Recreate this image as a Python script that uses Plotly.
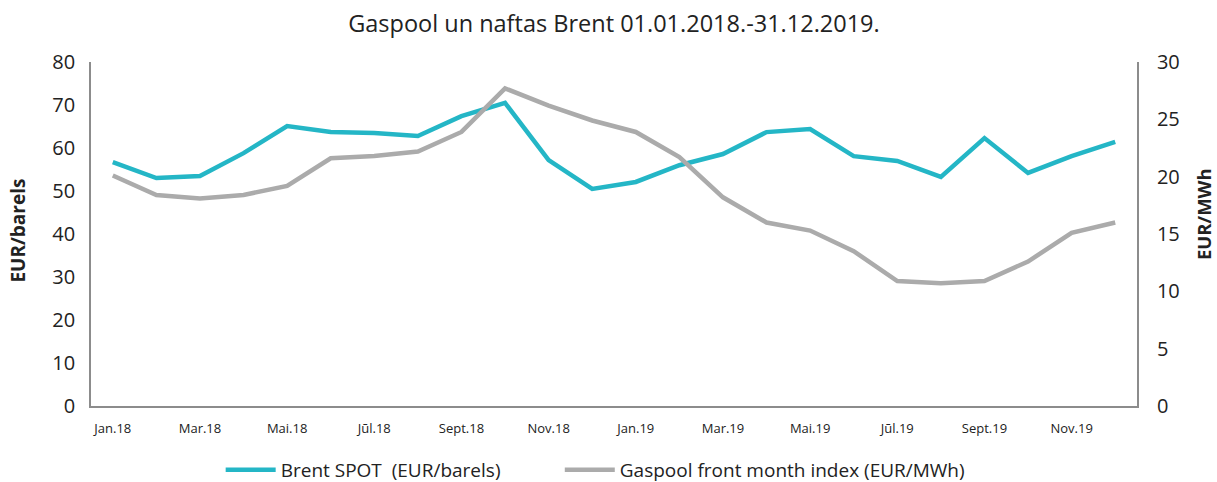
import plotly.graph_objects as go

months = ["Jan.18", "Feb.18", "Mar.18", "Apr.18", "Mai.18", "Jūn.18", "Jūl.18", "Aug.18",
          "Sept.18", "Okt.18", "Nov.18", "Dec.18",
          "Jan.19", "Feb.19", "Mar.19", "Apr.19", "Mai.19", "Jūn.19", "Jūl.19", "Aug.19",
          "Sept.19", "Okt.19", "Nov.19", "Dec.19"]
brent = [56.7, 53.0, 53.5, 58.8, 65.1, 63.7, 63.5, 62.8, 67.4, 70.5, 57.2, 50.5,
         52.1, 56.0, 58.6, 63.7, 64.4, 58.1, 57.0, 53.3, 62.3, 54.2, 58.1, 61.4]
gaspool = [20.1, 18.4, 18.1, 18.4, 19.2, 21.6, 21.8, 22.2, 23.9, 27.7, 26.2, 24.9,
           23.9, 21.7, 18.2, 16.0, 15.3, 13.5, 10.9, 10.7, 10.9, 12.6, 15.1, 16.0]
tick_labels = months[::2]

font = "Open Sans, Noto Sans, sans-serif"
fig = go.Figure()
fig.add_trace(go.Scatter(x=months, y=brent, mode="lines",
                         name="Brent SPOT  (EUR/barels)" + "\u00a0" * 11,
                         line=dict(color="#24B6C6", width=4.5)))
fig.add_trace(go.Scatter(x=months, y=gaspool, mode="lines", name="Gaspool front month index (EUR/MWh)",
                         line=dict(color="#ABABAB", width=4.5), yaxis="y2"))

plot_w = 1217 - 91 - 80
fig.update_layout(
    width=1217, height=482,
    margin=dict(l=91, r=80, t=62, b=76, autoexpand=False),
    paper_bgcolor="white", plot_bgcolor="white",
    font=dict(family=font, color="#222"),
    title=dict(text="Gaspool un naftas Brent 01.01.2018.-31.12.2019.", x=0.5045, xanchor="center",
               y=0.95, yanchor="middle", font=dict(size=23.5, color="#222")),
    xaxis=dict(type="category", tickvals=tick_labels, ticktext=tick_labels, automargin=False,
               showline=True, linecolor="#8C8C8C", linewidth=1.8, showgrid=False,
               ticks="outside", ticklen=9, tickcolor="rgba(0,0,0,0)",
               tickfont=dict(size=13), range=[-0.5, 23.5]),
    yaxis=dict(range=[0, 80], dtick=10, showline=True, linecolor="#8C8C8C", linewidth=1.8,
               showgrid=False, zeroline=False, automargin=False,
               ticks="outside", ticklen=10, tickcolor="rgba(0,0,0,0)", tickfont=dict(size=20)),
    yaxis2=dict(range=[0, 30], dtick=5, overlaying="y", side="right", showline=True,
                linecolor="#8C8C8C", linewidth=1.8, showgrid=False, zeroline=False, automargin=False,
                ticks="outside", ticklen=14, tickcolor="rgba(0,0,0,0)", tickfont=dict(size=20)),
    annotations=[
        dict(text="<b>EUR/barels</b>", x=(18 - 91) / plot_w, xref="paper", xanchor="center",
             y=0.51, yref="paper", yanchor="middle", textangle=-90, showarrow=False,
             font=dict(size=19)),
        dict(text="<b>EUR/MWh</b>", x=(1203 - 91) / plot_w, xref="paper", y=0.558, yref="paper",
             xanchor="center", yanchor="middle", textangle=-90, showarrow=False,
             font=dict(size=18.5)),
    ],
    legend=dict(orientation="h", x=0.482, xanchor="center", y=-0.186, yanchor="middle",
                font=dict(size=19), itemwidth=50),
    showlegend=True,
)
fig.write_html("out.html", config={"displayModeBar": False},
               post_script="document.body.style.margin='0';document.body.style.overflow='hidden';")
